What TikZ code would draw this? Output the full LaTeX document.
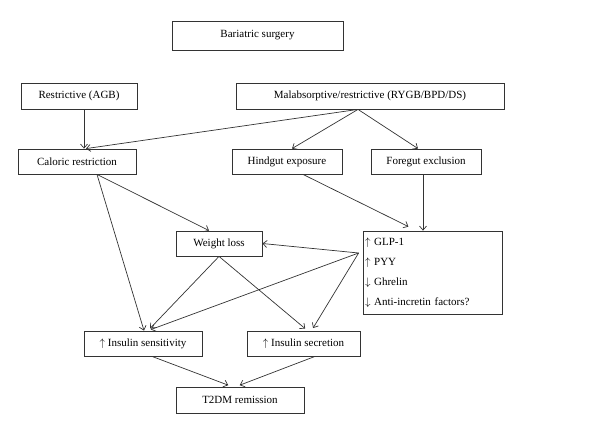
\documentclass[tikz,border=0pt]{standalone}
\usepackage{fontspec}
\setmainfont{Liberation Serif}
\usetikzlibrary{arrows.meta}

\begin{document}
\begin{tikzpicture}[x=1pt, y=-1pt,
    box/.style={draw=black!80, line width=0.8pt, inner sep=0pt, font=\fontsize{11}{13}\selectfont},
    arr/.style={draw=black!80, line width=0.7pt, -{Straight Barb[length=4pt,width=7pt]}}]

    % Page size of the reference
    \useasboundingbox (0,0) rectangle (600,434);

    % Boxes (centres, y grows downwards)
    \node[box, minimum width=171pt, minimum height=29pt] (surg) at (257.5,35.5) {Bariatric surgery};
    \node[box, minimum width=116pt, minimum height=26pt] (restr) at (79,96) {Restrictive (AGB)};
    \node[box, minimum width=268pt, minimum height=26pt] (malab) at (370,96) {Malabsorptive/restrictive (RYGB/BPD/DS)};
    \node[box, minimum width=118pt, minimum height=25pt] (calor) at (77,161.5) {Caloric restriction};
    \node[box, minimum width=110pt, minimum height=25pt] (hind) at (287,161.5) {Hindgut exposure};
    \node[box, minimum width=110pt, minimum height=25pt] (fore) at (426,161.5) {Foregut exclusion};
    \node[box, minimum width=86pt, minimum height=25pt] (weight) at (219,243.5) {Weight loss};
    \node[box, inner xsep=2pt, text width=135pt, minimum height=83pt, align=left] (horm) at (432.5,272.5)
        {$\uparrow$ GLP-1\\[7pt] $\uparrow$ PYY\\[7pt] $\downarrow$ Ghrelin\\[7pt] $\downarrow$ Anti-incretin factors?};
    \node[box, minimum width=118pt, minimum height=25pt] (sens) at (143,343.5) {$\uparrow$ Insulin sensitivity};
    \node[box, minimum width=113pt, minimum height=25pt] (secr) at (303.5,343.5) {$\uparrow$ Insulin secretion};
    \node[box, minimum width=128pt, minimum height=26pt] (t2dm) at (240,400) {T2DM remission};

    % Fork points where several arrows leave
    \coordinate (mfork) at ([xshift=-12pt]malab.south);
    \coordinate (cfork) at ([xshift=20pt]calor.south);
    \coordinate (hfork) at ([xshift=-4pt,yshift=19.5pt]horm.west);

    % Surgery types
    \draw[arr] ([xshift=5pt]restr.south) -- ([xshift=7pt]calor.north);
    \draw[arr] (mfork) -- ([xshift=9pt]calor.north);
    \draw[arr] (mfork) -- ([xshift=5pt]hind.north);
    \draw[arr] (mfork) -- ([xshift=-8pt]fore.north);

    % Caloric restriction
    \draw[arr] (cfork) -- ([xshift=-10pt]weight.north);
    \draw[arr] (cfork) -- ([xshift=1pt]sens.north);

    % Gut hormones
    \draw[arr, shorten >=9pt] ([xshift=16pt]hind.south) -- ([xshift=-16pt]horm.north);
    \draw[arr] ([xshift=-3pt]fore.south) -- ([xshift=-9.5pt]horm.north);
    \draw[arr] (hfork) -- (weight.east);
    \draw[arr, shorten >=3pt] (hfork) -- ([xshift=5pt]sens.north);
    \draw[arr, shorten >=3pt] (hfork) -- ([xshift=8pt]secr.north);

    % Weight loss
    \draw[arr, shorten >=3pt] (weight.south) -- ([xshift=5pt]sens.north);
    \draw[arr, shorten >=3pt] (weight.south) -- ([xshift=4pt]secr.north);

    % Remission
    \draw[arr, shorten >=4pt] ([xshift=9pt]sens.south) -- ([xshift=-8pt]t2dm.north);
    \draw[arr, shorten >=4pt] ([xshift=11.5pt]secr.south) -- ([xshift=-4pt]t2dm.north);

\end{tikzpicture}
\end{document}
